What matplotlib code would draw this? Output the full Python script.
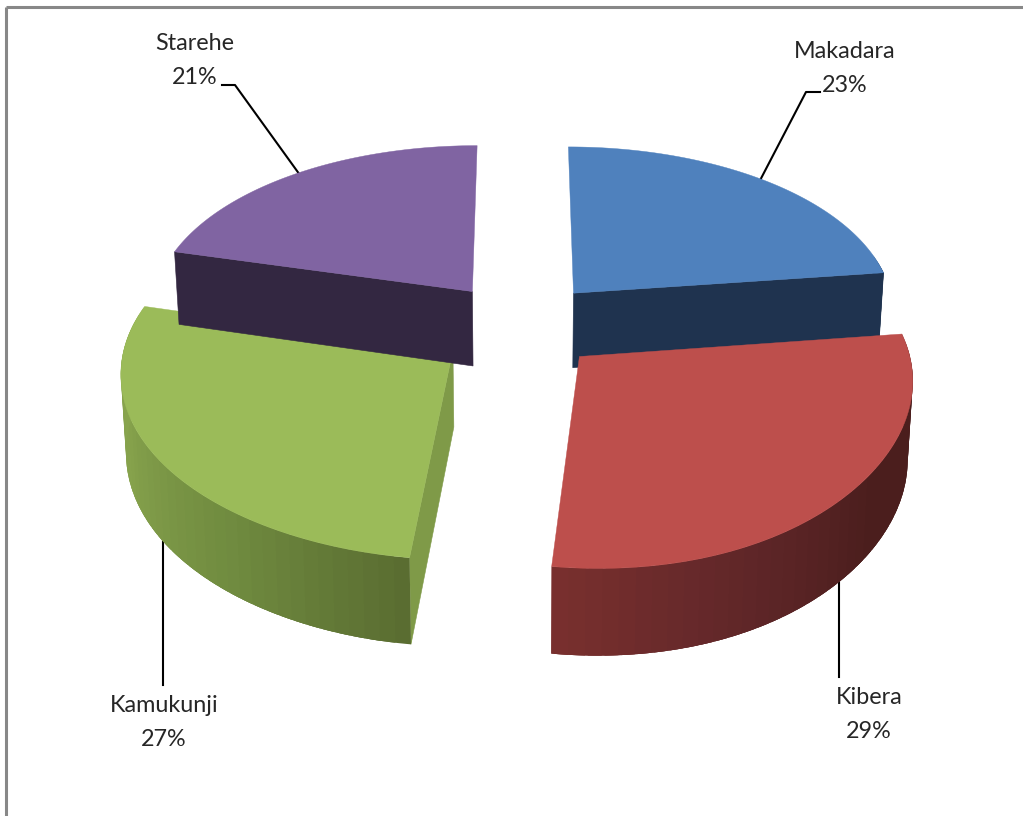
import numpy as np
import matplotlib
matplotlib.use("Agg")
import matplotlib.pyplot as plt
from matplotlib.patches import Polygon

# values, clockwise from 12 o'clock
names = ["Makadara", "Kibera", "Kamukunji", "Starehe"]
shares = [23, 29, 27, 21]

top_colors = ["#4f81bd", "#bd4f4c", "#9bbb59", "#8064a2"]
side_colors = ["#1f334f", "#4b1e1d", "#7f9a48", "#332741"]
# wall shading along the rim: angle in degrees -> colour
wall_shade = {
    "Kibera": ([82, 125, 160, 187], ["#4b1e1d", "#4b1e1d", "#64282a", "#7a302e"]),
    "Kamukunji": ([187, 215, 250, 285], ["#5a6d31", "#6f8a3f", "#86a24c", "#8aa64f"]),
}

# label centre, leader path in pixels
label_pos = [(845, 51), (869, 698), (164, 706), (195, 43)]
leaders = [
    [(755, 190), (806, 92), (820, 92)],
    [(839, 570), (839, 677)],
    [(163, 530), (163, 685)],
    [(305, 182), (235, 85), (222, 85)],
]

# projection of the tilted pie
cx, cy = 521, 325
rad_x, rad_y = 324, 174
persp_x, persp_y = 0.11, 0.135
explode = 0.25
depth = 76
shrink = 0.987
front_warp = 0.032


def project(u, v, low=False):
    sx = 1 / (1 - persp_x * v)
    sy = 1 / (1 - persp_y * v)
    if low:
        return cx + rad_x * u * sx * shrink, cy + (rad_y * v * shrink + depth) * sy
    return cx + rad_x * u * sx, cy + rad_y * v * sy


def wall_color(name, ang, fallback):
    if name not in wall_shade:
        return fallback
    st, cols = wall_shade[name]
    rgb = np.array([matplotlib.colors.to_rgb(c) for c in cols])
    return [np.interp(ang, st, rgb[:, n]) for n in range(3)]


fig = plt.figure(figsize=(10.23, 8.16), dpi=100)
ax = fig.add_axes([0, 0, 1, 1])
ax.set_xlim(0, 1023)
ax.set_ylim(816, 0)
ax.axis("off")

# frame of the pasted chart, top and left only
ax.plot([6, 1023], [7, 7], color="#888888", lw=2.2, solid_capstyle="butt")
ax.plot([6, 6], [7, 816], color="#888888", lw=2.2, solid_capstyle="butt")

for path in leaders:
    xs, ys = zip(*path)
    ax.plot(xs, ys, color="black", lw=1.5, zorder=1)

edges = np.cumsum([0] + shares) / sum(shares) * 360
# back slices first, then the front ones over them
for i in [0, 3, 1, 2]:
    t0, t1 = edges[i], edges[i + 1]
    mid = np.radians((t0 + t1) / 2)
    ou, ov = explode * np.sin(mid), -explode * np.cos(mid)
    t = np.radians(np.linspace(t0, t1, 241))
    u = ou + np.sin(t) + front_warp * np.clip(-np.cos(t), 0, None) ** 4
    v = ov - np.cos(t)

    # flat faces that look towards the viewer
    for ang, ru, rv in [(t0, u[0], v[0]), (t1, u[-1], v[-1])]:
        a = np.radians(ang)
        facing = -np.sin(a) if ang == t0 else np.sin(a)
        if facing > 0:
            pts = [project(ou, ov), project(ru, rv), project(ru, rv, True), project(ou, ov, True)]
            ax.add_patch(Polygon(pts, fc=side_colors[i], ec=side_colors[i], lw=0.4, zorder=2 + i))

    # outer wall in bands, each one laps well over the next so no seams show
    step = 6
    for j in range(0, len(t) - 1, step):
        idx = np.arange(j, min(j + 3 * step, len(t)))
        if len(idx) < 2 or np.cos(t[idx]).min() > 0.15:
            continue
        col = wall_color(names[i], np.degrees(t[j]), side_colors[i])
        ux, uy = project(u[idx], v[idx])
        lx, ly = project(u[idx], v[idx], True)
        pts = np.r_[np.c_[ux, uy], np.c_[lx, ly][::-1]]
        ax.add_patch(Polygon(pts, fc=col, ec="none", zorder=2 + i))

    # top face
    us = np.r_[ou, u]
    vs = np.r_[ov, v]
    px, py = project(us, vs)
    ax.add_patch(Polygon(np.c_[px, py], fc=top_colors[i], ec=top_colors[i], lw=0.3, zorder=2 + i + 0.5))

for name, share, (lx, ly) in zip(names, shares, label_pos):
    ax.text(lx, ly, name, ha="center", va="center", fontsize=16.8, family="Lato", color="#262626")
    ax.text(lx, ly + 34, f"{share}%", ha="center", va="center", fontsize=16.8, family="Lato", color="#262626")

fig.savefig("out.png", dpi=100)
